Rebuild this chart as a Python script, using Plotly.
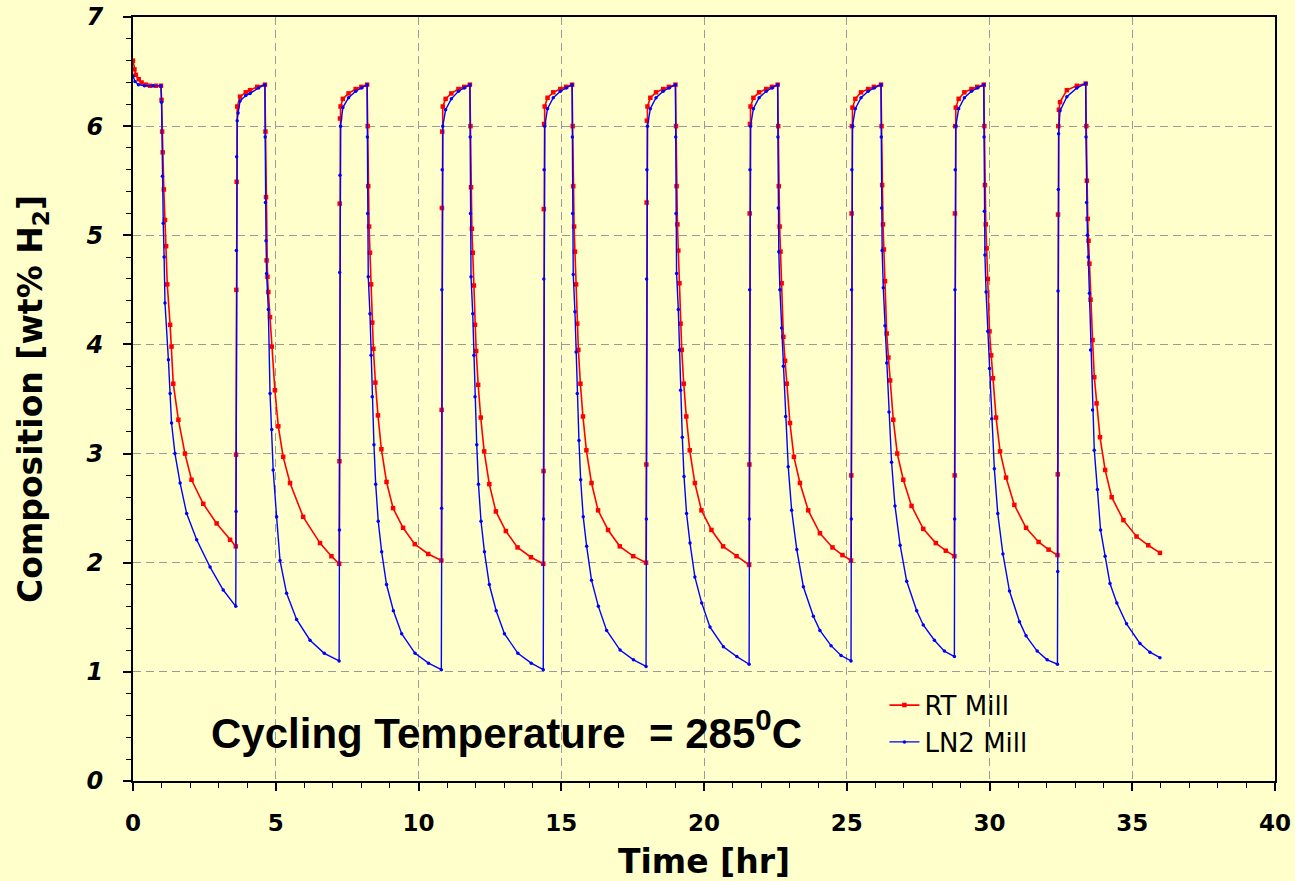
import plotly.graph_objects as go

# ---------------- data ----------------
x_ticks = [0, 5, 10, 15, 20, 25, 30, 35, 40]
y_ticks = [0, 1, 2, 3, 4, 5, 6, 7]

rt_time = [
    # initial plateau
    0.00, 0.05, 0.10, 0.20, 0.30, 0.45, 0.60, 0.80, 0.98,
    # desorption 1
    1.00, 1.02, 1.04, 1.08, 1.12, 1.16, 1.20, 1.30, 1.35, 1.41, 1.59, 1.82, 2.05, 2.46, 2.93, 3.40, 3.60,
    # absorption 1
    3.61, 3.62, 3.63, 3.65, 3.75, 3.95, 4.10, 4.35, 4.62,
    # desorption 2
    4.64, 4.66, 4.68, 4.71, 4.74, 4.80, 4.86, 4.97, 5.09, 5.26, 5.50, 5.96, 6.55, 6.95, 7.22,
    # absorption 2
    7.23, 7.24, 7.25, 7.27, 7.35, 7.55, 7.80, 8.00, 8.20,
    # desorption 3
    8.22, 8.24, 8.27, 8.30, 8.34, 8.38, 8.42, 8.49, 8.58, 8.70, 8.88, 9.11, 9.46, 9.87, 10.34, 10.80,
    # absorption 3
    10.81, 10.82, 10.83, 10.85, 10.95, 11.15, 11.40, 11.60, 11.80,
    # desorption 4
    11.82, 11.84, 11.87, 11.90, 11.94, 11.98, 12.02, 12.09, 12.18, 12.30, 12.48, 12.71, 13.06, 13.47, 13.94, 14.37,
    # absorption 4
    14.38, 14.39, 14.40, 14.42, 14.52, 14.72, 14.97, 15.17, 15.38,
    # desorption 5
    15.40, 15.42, 15.45, 15.48, 15.52, 15.56, 15.60, 15.67, 15.76, 15.88, 16.06, 16.29, 16.64, 17.05, 17.52, 17.97,
    # absorption 5
    17.98, 17.99, 18.00, 18.02, 18.12, 18.32, 18.57, 18.77, 19.00,
    # desorption 6
    19.02, 19.04, 19.07, 19.10, 19.14, 19.18, 19.22, 19.29, 19.38, 19.50, 19.68, 19.91, 20.26, 20.67, 21.14, 21.58,
    # absorption 6
    21.59, 21.60, 21.61, 21.63, 21.73, 21.93, 22.18, 22.38, 22.58,
    # desorption 7
    22.60, 22.62, 22.65, 22.68, 22.72, 22.78, 22.84, 22.90, 23.01, 23.15, 23.36, 23.65, 24.06, 24.50, 24.85, 25.15,
    # absorption 7
    25.16, 25.17, 25.18, 25.20, 25.30, 25.50, 25.75, 25.95, 26.20,
    # desorption 8
    26.22, 26.24, 26.27, 26.30, 26.34, 26.40, 26.46, 26.52, 26.63, 26.77, 26.98, 27.27, 27.68, 28.12, 28.47, 28.77,
    # absorption 8
    28.78, 28.79, 28.80, 28.82, 28.92, 29.12, 29.37, 29.57, 29.80,
    # desorption 9
    29.82, 29.84, 29.87, 29.90, 29.94, 30.00, 30.06, 30.12, 30.23, 30.37, 30.58, 30.87, 31.28, 31.72, 32.07, 32.38,
    # absorption 9
    32.39, 32.40, 32.41, 32.43, 32.47, 32.71, 33.06, 33.37,
    # desorption 10
    33.39, 33.41, 33.44, 33.47, 33.50, 33.54, 33.61, 33.67, 33.75, 33.87, 34.05, 34.28, 34.69, 35.15, 35.56, 35.97,
]
rt_comp = [
    6.60, 6.52, 6.47, 6.43, 6.40, 6.38, 6.37, 6.37, 6.37,
    6.24, 5.95, 5.76, 5.42, 5.14, 4.90, 4.55, 4.18, 3.98, 3.64, 3.31, 3.00, 2.76, 2.54, 2.36, 2.21, 2.15,
    2.99, 4.50, 5.49, 6.18, 6.27, 6.31, 6.33, 6.36, 6.38,
    5.95, 5.35, 4.77, 4.62, 4.48, 4.25, 3.98, 3.58, 3.25, 2.97, 2.73, 2.42, 2.18, 2.06, 1.99,
    2.93, 5.29, 6.07, 6.18, 6.25, 6.30, 6.34, 6.36, 6.38,
    6.00, 5.45, 5.08, 4.84, 4.55, 4.20, 3.96, 3.65, 3.35, 3.04, 2.74, 2.50, 2.32, 2.17, 2.08, 2.02,
    3.40, 5.25, 5.95, 6.18, 6.25, 6.30, 6.34, 6.36, 6.38,
    6.00, 5.44, 5.06, 4.84, 4.54, 4.18, 3.94, 3.63, 3.33, 3.02, 2.72, 2.47, 2.29, 2.14, 2.05, 1.99,
    2.84, 5.24, 6.02, 6.18, 6.26, 6.31, 6.34, 6.36, 6.38,
    6.00, 5.45, 5.08, 4.85, 4.55, 4.19, 3.95, 3.64, 3.34, 3.03, 2.73, 2.48, 2.30, 2.15, 2.06, 2.00,
    2.90, 5.30, 6.05, 6.18, 6.26, 6.31, 6.34, 6.36, 6.38,
    6.00, 5.45, 5.10, 4.86, 4.56, 4.19, 3.95, 3.64, 3.34, 3.03, 2.73, 2.48, 2.30, 2.15, 2.06, 1.98,
    2.90, 5.20, 6.02, 6.18, 6.26, 6.31, 6.34, 6.36, 6.38,
    6.00, 5.45, 5.08, 4.85, 4.56, 4.07, 3.85, 3.64, 3.28, 2.97, 2.73, 2.48, 2.27, 2.14, 2.07, 2.02,
    2.80, 5.20, 6.00, 6.17, 6.25, 6.31, 6.34, 6.36, 6.38,
    6.00, 5.46, 5.10, 4.87, 4.58, 4.10, 3.88, 3.67, 3.31, 3.00, 2.76, 2.52, 2.31, 2.18, 2.11, 2.06,
    2.80, 5.20, 6.00, 6.17, 6.25, 6.31, 6.34, 6.36, 6.38,
    6.00, 5.46, 5.10, 4.88, 4.60, 4.12, 3.90, 3.69, 3.33, 3.02, 2.78, 2.53, 2.32, 2.19, 2.12, 2.07,
    2.81, 5.19, 6.00, 6.15, 6.22, 6.33, 6.37, 6.39,
    6.00, 5.50, 5.15, 4.95, 4.74, 4.41, 4.04, 3.70, 3.46, 3.15, 2.85, 2.60, 2.39, 2.24, 2.16, 2.09,
]

ln2_time = [
    # initial plateau
    0.00, 0.07, 0.19, 0.40, 0.70, 0.98,
    # desorption 1
    1.00, 1.03, 1.06, 1.09, 1.12, 1.24, 1.30, 1.35, 1.47, 1.65, 1.88, 2.23, 2.70, 3.16, 3.60,
    # absorption 1
    3.61, 3.62, 3.63, 3.65, 3.68, 3.75, 3.95, 4.10, 4.40, 4.62,
    # desorption 2
    4.63, 4.64, 4.66, 4.68, 4.74, 4.80, 4.86, 4.91, 5.03, 5.15, 5.38, 5.73, 6.20, 6.70, 7.22,
    # absorption 2
    7.23, 7.24, 7.25, 7.27, 7.35, 7.55, 7.80, 8.00, 8.20,
    # desorption 3
    8.21, 8.22, 8.24, 8.30, 8.34, 8.38, 8.44, 8.50, 8.59, 8.71, 8.88, 9.12, 9.41, 9.88, 10.35, 10.80,
    # absorption 3
    10.81, 10.82, 10.83, 10.85, 10.95, 11.15, 11.40, 11.60, 11.80,
    # desorption 4
    11.81, 11.82, 11.84, 11.90, 11.94, 11.98, 12.04, 12.10, 12.19, 12.31, 12.48, 12.72, 13.01, 13.48, 13.95, 14.37,
    # absorption 4
    14.38, 14.39, 14.40, 14.42, 14.52, 14.72, 14.97, 15.17, 15.38,
    # desorption 5
    15.39, 15.40, 15.42, 15.48, 15.52, 15.56, 15.62, 15.68, 15.77, 15.89, 16.06, 16.30, 16.59, 17.06, 17.53, 17.97,
    # absorption 5
    17.98, 17.99, 18.00, 18.02, 18.12, 18.32, 18.57, 18.77, 19.00,
    # desorption 6
    19.01, 19.02, 19.04, 19.10, 19.14, 19.18, 19.24, 19.30, 19.39, 19.51, 19.68, 19.92, 20.21, 20.68, 21.15, 21.58,
    # absorption 6
    21.59, 21.60, 21.61, 21.63, 21.73, 21.93, 22.18, 22.38, 22.58,
    # desorption 7
    22.59, 22.60, 22.62, 22.66, 22.72, 22.78, 22.86, 22.95, 23.07, 23.25, 23.48, 23.83, 24.06, 24.45, 24.80, 25.15,
    # absorption 7
    25.16, 25.17, 25.18, 25.20, 25.30, 25.50, 25.75, 25.95, 26.20,
    # desorption 8
    26.21, 26.22, 26.24, 26.28, 26.34, 26.40, 26.48, 26.57, 26.69, 26.87, 27.10, 27.45, 27.68, 28.07, 28.42, 28.77,
    # absorption 8
    28.78, 28.79, 28.80, 28.82, 28.92, 29.12, 29.37, 29.57, 29.80,
    # desorption 9
    29.81, 29.82, 29.84, 29.88, 29.94, 30.00, 30.08, 30.17, 30.29, 30.47, 30.70, 31.05, 31.28, 31.67, 32.02, 32.38,
    # absorption 9
    32.39, 32.40, 32.41, 32.42, 32.47, 32.71, 33.06, 33.37,
    # desorption 10
    33.38, 33.40, 33.43, 33.46, 33.50, 33.54, 33.61, 33.67, 33.78, 33.89, 34.05, 34.22, 34.46, 34.80, 35.27, 35.62, 35.97,
]
ln2_comp = [
    6.46, 6.41, 6.38, 6.37, 6.37, 6.37,
    6.22, 5.54, 5.11, 4.80, 4.38, 3.86, 3.55, 3.28, 3.00, 2.73, 2.45, 2.21, 1.96, 1.75, 1.60,
    2.47, 4.86, 5.72, 6.05, 6.12, 6.23, 6.28, 6.30, 6.35, 6.38,
    5.90, 5.30, 4.95, 4.65, 4.32, 3.55, 3.22, 2.85, 2.42, 2.02, 1.72, 1.48, 1.29, 1.17, 1.10,
    2.30, 4.66, 5.55, 6.00, 6.17, 6.26, 6.32, 6.35, 6.38,
    5.90, 5.20, 4.62, 4.28, 3.90, 3.52, 3.08, 2.72, 2.38, 2.10, 1.80, 1.56, 1.35, 1.17, 1.08, 1.02,
    2.50, 4.50, 5.60, 6.00, 6.15, 6.25, 6.32, 6.35, 6.38,
    5.90, 5.20, 4.62, 4.28, 3.90, 3.52, 3.08, 2.72, 2.38, 2.10, 1.80, 1.56, 1.35, 1.17, 1.08, 1.02,
    2.40, 4.60, 5.60, 6.00, 6.16, 6.26, 6.32, 6.35, 6.38,
    5.90, 5.20, 4.64, 4.30, 3.93, 3.55, 3.12, 2.76, 2.42, 2.15, 1.84, 1.60, 1.38, 1.20, 1.11, 1.05,
    2.40, 4.60, 5.60, 6.00, 6.16, 6.26, 6.32, 6.35, 6.38,
    5.90, 5.20, 4.65, 4.32, 3.95, 3.58, 3.15, 2.79, 2.45, 2.18, 1.87, 1.63, 1.41, 1.23, 1.14, 1.07,
    2.40, 4.50, 5.60, 6.00, 6.16, 6.26, 6.32, 6.35, 6.38,
    5.90, 5.25, 4.85, 4.50, 4.15, 3.80, 3.34, 2.88, 2.48, 2.12, 1.78, 1.51, 1.38, 1.24, 1.15, 1.10,
    2.40, 4.50, 5.60, 6.00, 6.16, 6.26, 6.32, 6.35, 6.38,
    5.90, 5.25, 4.86, 4.52, 4.17, 3.83, 3.38, 2.92, 2.52, 2.16, 1.83, 1.56, 1.43, 1.29, 1.19, 1.14,
    2.40, 4.50, 5.60, 6.00, 6.16, 6.26, 6.32, 6.35, 6.38,
    5.90, 5.22, 4.82, 4.48, 4.12, 3.78, 3.32, 2.86, 2.45, 2.08, 1.74, 1.46, 1.33, 1.19, 1.11, 1.07,
    1.92, 4.49, 5.42, 5.93, 6.14, 6.27, 6.35, 6.39,
    5.90, 5.30, 5.00, 4.80, 4.47, 3.95, 3.40, 3.03, 2.67, 2.30, 2.06, 1.81, 1.63, 1.44, 1.26, 1.18, 1.13,
]

# ---------------- figure ----------------
BG = "#FFFFCC"
GRID = "#9a9a9a"
FONT = "DejaVu Sans"

fig = go.Figure()
fig.add_trace(go.Scatter(
    x=rt_time, y=rt_comp, name="RT Mill", mode="lines+markers",
    line=dict(color="#FF0000", width=1.6),
    marker=dict(color="#FF0000", size=4.5, symbol="square"),
))
fig.add_trace(go.Scatter(
    x=ln2_time, y=ln2_comp, name="LN2 Mill", mode="lines+markers",
    line=dict(color="#0000FF", width=1.4),
    marker=dict(color="#0000FF", size=3.5, symbol="circle"),
))

axis_common = dict(
    showline=True, linecolor="black", linewidth=2, mirror=True,
    ticks="outside", ticklen=8, tickwidth=1.5, tickcolor="black",
    showgrid=True, gridcolor=GRID, gridwidth=1, griddash="8px,5px",
    zeroline=False, automargin=False,
)

fig.update_layout(
    width=1295, height=881,
    margin=dict(l=133, r=20, t=17, b=100, autoexpand=False),
    paper_bgcolor=BG, plot_bgcolor=BG,
    font=dict(family=FONT, color="black"),
    showlegend=True,
    legend=dict(
        x=0.658, y=0.130, xanchor="left", yanchor="top",
        bgcolor="rgba(0,0,0,0)", font=dict(family=FONT, size=26, color="black"),
        itemwidth=30, tracegroupgap=0,
    ),
    xaxis=dict(
        range=[0, 40], tickmode="array", tickvals=x_ticks,
        ticktext=[str(v) for v in x_ticks],
        tickfont=dict(family=FONT, size=23, weight="bold", color="black"),
        ticklabelstandoff=12,
        minor=dict(dtick=1, ticks="outside", ticklen=5, tickwidth=1, tickcolor="black", showgrid=False),
        title=dict(text="Time [hr]", font=dict(family=FONT, size=33, weight="bold", color="black"), standoff=16),
        **axis_common,
    ),
    yaxis=dict(
        range=[0, 7], tickmode="array", tickvals=y_ticks,
        ticktext=[str(v) for v in y_ticks],
        tickfont=dict(family=FONT, size=24, weight="bold", style="italic", color="black"),
        ticklabelstandoff=15,
        minor=dict(dtick=0.2, ticks="outside", ticklen=5, tickwidth=1, tickcolor="black", showgrid=False),
        title=dict(text="Composition [wt% H<sub>2</sub>]", font=dict(family=FONT, size=33, weight="bold", color="black"), standoff=33),
        **axis_common,
    ),
    annotations=[dict(
        text="Cycling Temperature &nbsp;= 285<sup>0</sup>C",
        xref="paper", yref="paper", x=0.327, y=0.067,
        xanchor="center", yanchor="middle", showarrow=False,
        font=dict(family="Liberation Sans", size=42, weight="bold", color="black"),
    )],
)

fig.write_html("out.html")
